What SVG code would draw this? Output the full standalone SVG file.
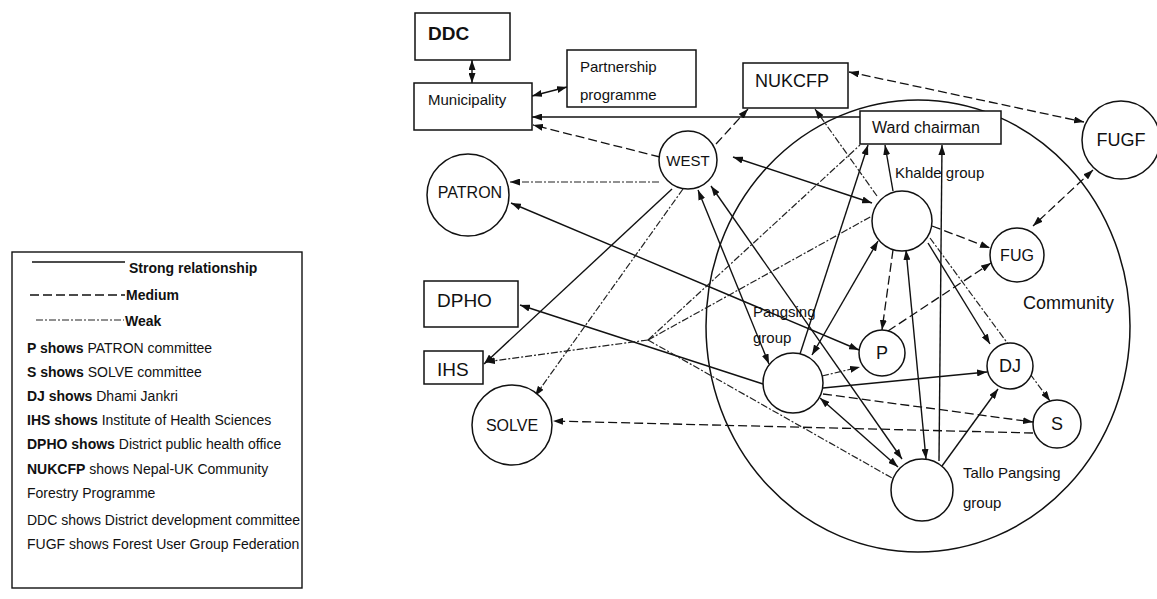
<svg xmlns="http://www.w3.org/2000/svg" width="1157" height="599" viewBox="0 0 1157 599">
<style>
text{font-family:"Liberation Sans",Arial,sans-serif;fill:#111}
.n{fill:#fff;stroke:#111;stroke-width:1.5}
.s{stroke:#111;stroke-width:1.4;fill:none}
.m{stroke:#111;stroke-width:1.3;stroke-dasharray:9 4;fill:none}
.w{stroke:#222;stroke-width:1.2;stroke-dasharray:7 2 2 2;fill:none}
.e{marker-end:url(#a)}
.b{marker-start:url(#a);marker-end:url(#a)}
.lg{font-size:14px}
.nl{font-size:16px}
.big{font-size:18px}
</style>
<defs>
<marker id="a" viewBox="0 0 10 7" refX="10" refY="3.5" markerWidth="10" markerHeight="7" markerUnits="userSpaceOnUse" orient="auto-start-reverse">
<path d="M0,0 L10,3.5 L0,7 z" fill="#111"/>
</marker>
</defs>
<rect width="1157" height="599" fill="#fff"/>

<g id="legend">
<rect x="12" y="252" width="290" height="336" fill="none" stroke="#111" stroke-width="1.4"/>
<line x1="32" y1="262" x2="125" y2="262" class="s"/>
<text x="129" y="273" class="lg" font-weight="bold">Strong relationship</text>
<line x1="30" y1="295" x2="125" y2="295" class="m"/>
<text x="126" y="300" class="lg" font-weight="bold">Medium</text>
<line x1="36" y1="320" x2="124" y2="320" class="w"/>
<text x="125" y="326" class="lg" font-weight="bold">Weak</text>
<text x="27" y="353" class="lg"><tspan font-weight="bold">P shows</tspan> PATRON committee</text>
<text x="27" y="377" class="lg"><tspan font-weight="bold">S shows</tspan> SOLVE committee</text>
<text x="27" y="401" class="lg"><tspan font-weight="bold">DJ shows</tspan> Dhami Jankri</text>
<text x="27" y="425" class="lg"><tspan font-weight="bold">IHS shows</tspan> Institute of Health Sciences</text>
<text x="27" y="449" class="lg"><tspan font-weight="bold">DPHO shows</tspan> District public health office</text>
<text x="27" y="474" class="lg"><tspan font-weight="bold">NUKCFP</tspan> shows Nepal-UK Community</text>
<text x="27" y="498" class="lg">Forestry Programme</text>
<text x="27" y="525" class="lg">DDC shows District development committee</text>
<text x="27" y="549" class="lg">FUGF shows Forest User Group Federation</text>
</g>

<g id="community">
<ellipse cx="918" cy="326" rx="212" ry="226" fill="none" stroke="#111" stroke-width="1.5"/>
<text x="1023" y="309" font-size="18">Community</text>
</g>

<g id="connectors">
<line x1="472" y1="60" x2="472" y2="83" class="s b"/>
<line x1="532" y1="96" x2="567" y2="87" class="s b"/>
<line x1="860" y1="117" x2="532" y2="117" class="s e"/>
<line x1="660" y1="157" x2="533" y2="125" class="m e"/>
<line x1="659" y1="182" x2="510" y2="182" class="w e"/>
<line x1="716" y1="144" x2="748" y2="109" class="m e"/>
<line x1="849" y1="72" x2="1084" y2="122" class="m b"/>
<line x1="1093" y1="170" x2="1033" y2="226" class="m b"/>
<line x1="893" y1="191" x2="885" y2="145" class="s e"/>
<line x1="800" y1="354" x2="868" y2="145" class="s e"/>
<line x1="939" y1="461" x2="942" y2="145" class="s e"/>
<line x1="733" y1="157" x2="872" y2="203" class="s b"/>
<line x1="877" y1="196" x2="815" y2="109" class="w e"/>
<line x1="672" y1="189" x2="484" y2="364" class="s e"/>
<line x1="683" y1="189" x2="535" y2="396" class="w e"/>
<line x1="698" y1="190" x2="769" y2="364" class="s b"/>
<line x1="711" y1="186" x2="902" y2="459" class="s b"/>
<line x1="511" y1="203" x2="859" y2="350" class="s b"/>
<line x1="763" y1="384" x2="520" y2="305" class="s e"/>
<line x1="648" y1="340" x2="485" y2="362" class="w e"/>
<line x1="648" y1="340" x2="860" y2="145" class="w"/>
<line x1="648" y1="340" x2="872" y2="216" class="w"/>
<line x1="648" y1="340" x2="892" y2="478" class="w"/>
<line x1="893" y1="250" x2="882" y2="330" class="m e"/>
<line x1="888" y1="331" x2="991" y2="263" class="m e"/>
<line x1="878" y1="241" x2="812" y2="355" class="s b"/>
<line x1="906" y1="250" x2="926" y2="459" class="s b"/>
<line x1="928" y1="243" x2="990" y2="344" class="s e"/>
<line x1="930" y1="238" x2="1050" y2="401" class="w e"/>
<line x1="932" y1="226" x2="990" y2="248" class="m e"/>
<line x1="822" y1="376" x2="860" y2="367" class="w e"/>
<line x1="823" y1="388" x2="987" y2="372" class="s e"/>
<line x1="823" y1="394" x2="1033" y2="422" class="m e"/>
<line x1="1033" y1="433" x2="553" y2="421" class="m e"/>
<line x1="898" y1="467" x2="820" y2="398" class="s b"/>
<line x1="942" y1="466" x2="998" y2="389" class="s e"/>
</g>

<g id="ddc"><rect x="415" y="13" width="95" height="47" class="n"/><text x="428" y="40" font-size="19" font-weight="bold">DDC</text></g>
<g id="municipality"><rect x="414" y="83" width="118" height="47" class="n"/><text x="428" y="105" font-size="15">Municipality</text></g>
<g id="partnership"><rect x="567" y="50" width="129" height="57" class="n"/><text x="580" y="72" font-size="15">Partnership</text><text x="580" y="100" font-size="15">programme</text></g>
<g id="nukcfp"><rect x="743" y="63" width="105" height="45" class="n"/><text x="755" y="87" class="big">NUKCFP</text></g>
<g id="ward"><rect x="860" y="111" width="141" height="33" class="n"/><text x="872" y="133" class="nl">Ward chairman</text></g>
<g id="dpho"><rect x="424" y="281" width="94" height="46" class="n"/><text x="437" y="307" font-size="19">DPHO</text></g>
<g id="ihs"><rect x="424" y="351" width="59" height="33" class="n"/><text x="437" y="376" font-size="19">IHS</text></g>
<g id="patron"><circle cx="468" cy="195" r="41" class="n"/><text x="470" y="198" text-anchor="middle" class="nl">PATRON</text></g>
<g id="west"><circle cx="688" cy="160" r="29" class="n"/><text x="688" y="166" text-anchor="middle" font-size="15">WEST</text></g>
<g id="solve"><circle cx="512" cy="425" r="40" class="n"/><text x="512" y="431" text-anchor="middle" class="nl">SOLVE</text></g>
<g id="fugf"><circle cx="1121" cy="140" r="39" class="n"/><text x="1121" y="146" text-anchor="middle" class="big">FUGF</text></g>
<g id="khalde"><circle cx="902" cy="221" r="30" class="n"/><text x="895" y="178" font-size="15">Khalde group</text></g>
<g id="fug"><circle cx="1017" cy="255" r="27" class="n"/><text x="1017" y="261" text-anchor="middle" class="nl">FUG</text></g>
<g id="pangsing"><circle cx="793" cy="383" r="30" class="n"/><text x="753" y="317" font-size="15">Pangsing</text><text x="753" y="343" font-size="15">group</text></g>
<g id="p"><circle cx="882" cy="353" r="23" class="n"/><text x="882" y="359" text-anchor="middle" class="big">P</text></g>
<g id="dj"><circle cx="1010" cy="366" r="23" class="n"/><text x="1010" y="372" text-anchor="middle" class="big">DJ</text></g>
<g id="s"><circle cx="1057" cy="424" r="24" class="n"/><text x="1057" y="430" text-anchor="middle" class="big">S</text></g>
<g id="tallo"><circle cx="922" cy="490" r="31" class="n"/><text x="963" y="478" font-size="15">Tallo Pangsing</text><text x="963" y="508" font-size="15">group</text></g>
</svg>
